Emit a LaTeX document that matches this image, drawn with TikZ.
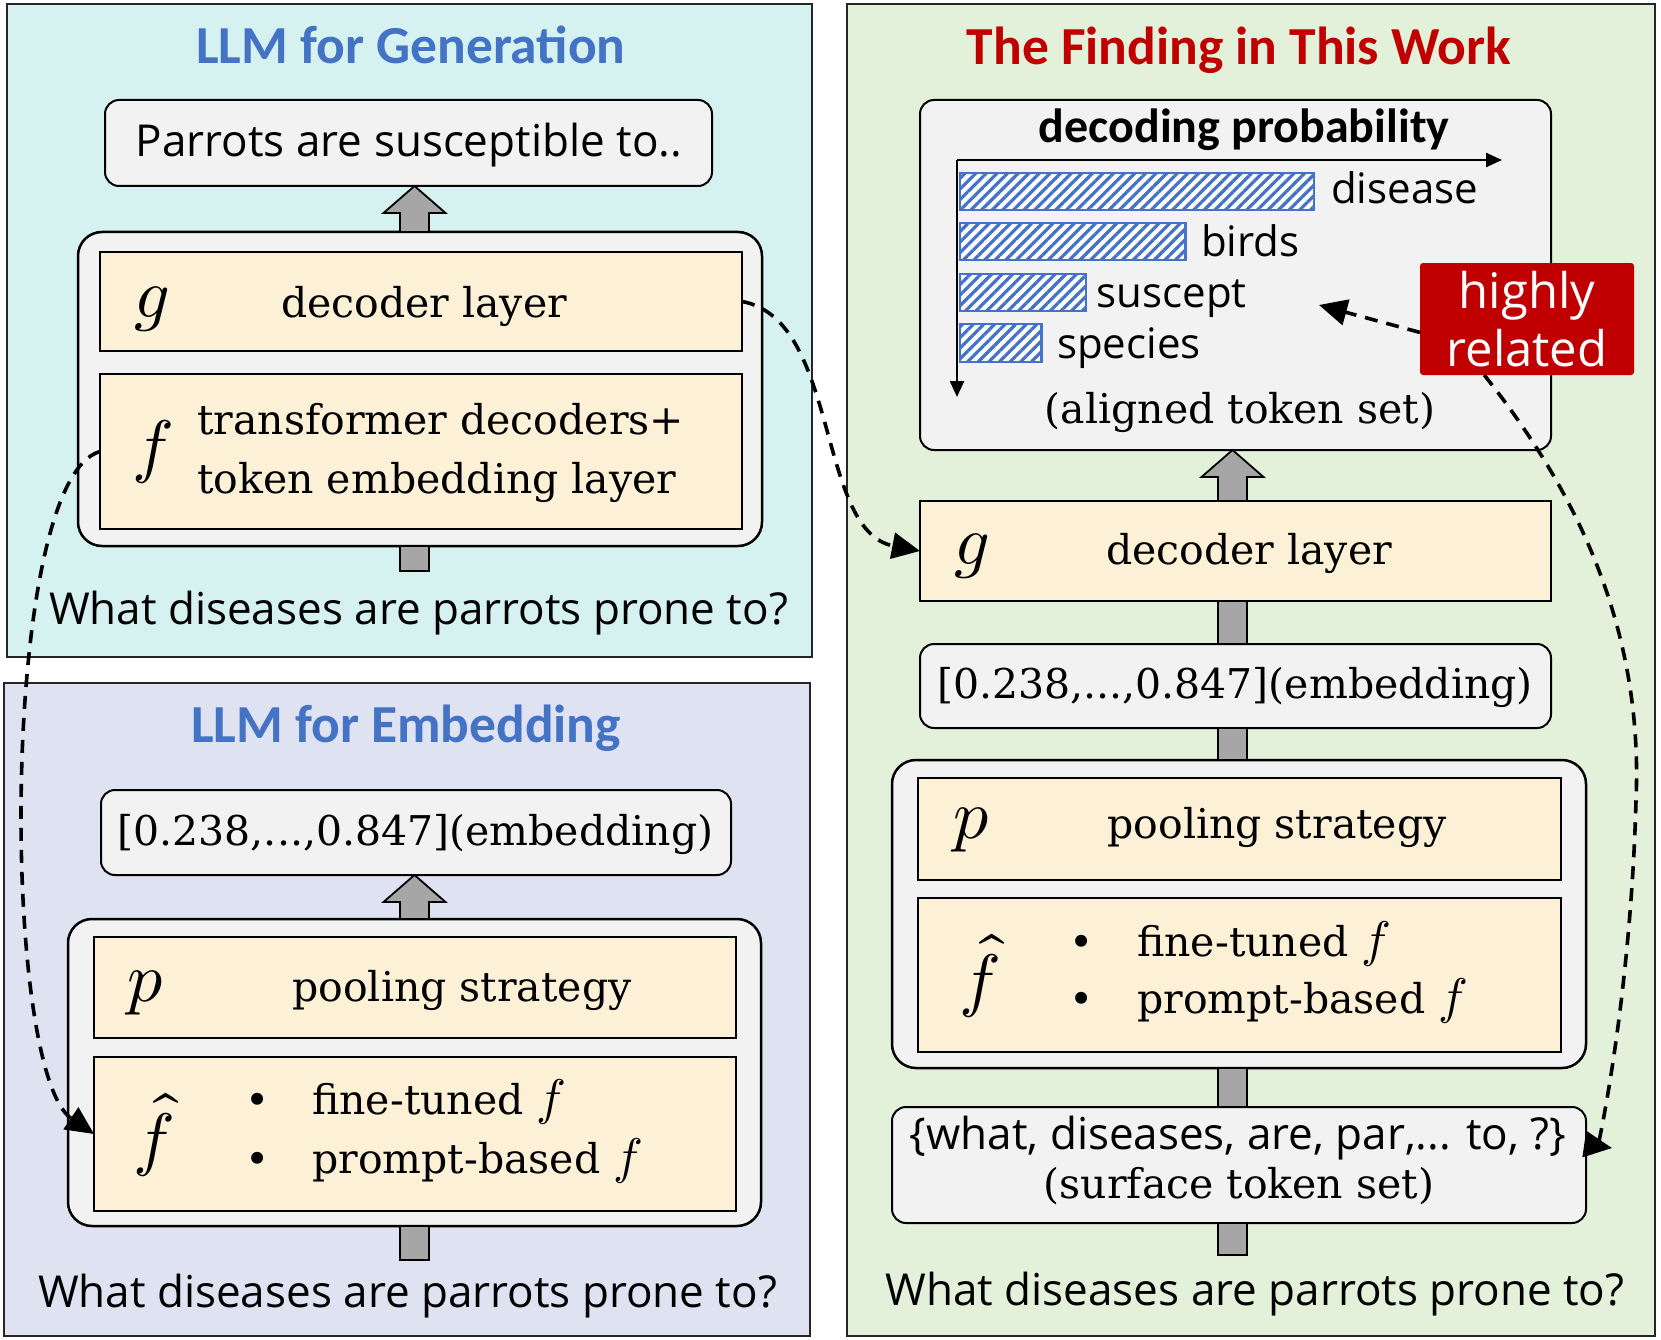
\documentclass[tikz,border=0pt]{standalone}
\usepackage{fontspec}
\usepackage{unicode-math}
\setmainfont{DejaVu Serif}
\setmathfont{Latin Modern Math}
\newfontfamily\comicf{Open Sans}
\newfontfamily\titlef{Carlito}
\usetikzlibrary{arrows.meta,calc,patterns.meta}
\definecolor{genbg}{RGB}{213,242,240}
\definecolor{embbg}{RGB}{222,226,241}
\definecolor{findbg}{RGB}{227,240,218}
\definecolor{cream}{RGB}{252,241,214}
\definecolor{boxgray}{RGB}{242,242,242}
\definecolor{arrowgray}{RGB}{166,166,166}
\definecolor{titleblue}{RGB}{68,114,196}
\definecolor{darkred}{RGB}{192,0,0}
\definecolor{barblue}{RGB}{68,114,196}
\newcommand{\upArrow}[2]{%
  \path[garrow] let \p1=(#1), \p2=(#2) in
    (\x1-14.5pt,\y1) -- (\x1-14.5pt,\y2-27pt) -- (\x1-31pt,\y2-27pt) -- (\x1,\y2)
    -- (\x1+31pt,\y2-27pt) -- (\x1+14.5pt,\y2-27pt) -- (\x1+14.5pt,\y1) -- cycle;}
\newcommand{\itf}{{\fontsize{50}{50}\selectfont$f$}}
\begin{document}
\begin{tikzpicture}[x=1pt,y=-1pt,
  panelbox/.style={draw=black!85, line width=2pt},
  outbox/.style={draw=black, line width=2pt, rounded corners=14pt, fill=boxgray, inner sep=0pt, outer sep=0pt},
  contbox/.style={draw=black, line width=2.5pt, rounded corners=24pt, fill=boxgray, inner sep=0pt, outer sep=0pt},
  layerbox/.style={draw=black, line width=2.5pt, fill=cream, inner sep=0pt, outer sep=0pt},
  redbox/.style={fill=darkred, rounded corners=3pt, text=white, inner sep=0pt, outer sep=0pt, align=center, font=\comicf\fontsize{49}{58}\selectfont},
  ttl/.style={font=\titlef\bfseries\fontsize{53.5}{64}\selectfont, inner sep=0pt, anchor=base},
  probttl/.style={font=\titlef\bfseries\fontsize{48}{58}\selectfont, inner sep=0pt, anchor=base},
  txtserif/.style={font=\fontsize{41}{49}\selectfont, inner sep=0pt, anchor=base},
  txtcomic/.style={font=\comicf\fontsize{44}{52}\selectfont, inner sep=0pt, anchor=base},
  barlbl/.style={font=\comicf\fontsize{42}{50}\selectfont, inner sep=0pt, anchor=base west},
  msym/.style={font=\fontsize{70}{80}\selectfont, inner sep=0pt, anchor=base},
  garrow/.style={draw=black, fill=arrowgray, line width=1.8pt, line join=miter},
  gshaft/.style={draw=black, fill=arrowgray, line width=1.8pt},
  barbox/.style={draw=barblue, line width=2.2pt, preaction={fill=white}, pattern={Lines[angle=45,distance=7.5pt,line width=3.2pt]}, pattern color=barblue},
  axisarr/.style={line width=2.4pt, -{Triangle[length=16pt,width=14pt]}},
  dconn/.style={line width=3.6pt, dash pattern=on 13pt off 9pt, -{Triangle[length=28pt,width=26pt]}}
]
\useasboundingbox (0,0) rectangle (1661,1340);
\fill[white] (0,0) rectangle (1661,1340);

% panels
\draw[panelbox, fill=genbg] (7,4) rectangle (812,657);
\draw[panelbox, fill=embbg] (4,683) rectangle (810,1336);
\draw[panelbox, fill=findbg] (847,4) rectangle (1655,1336);

% ---------- LLM for Generation ----------
\node[ttl, text=titleblue] (tA) at (411,64) {LLM for Generation};
\node[outbox, minimum width=607pt, minimum height=86pt] (outA) at (408.5,143) {};
\node[txtcomic] (toA) at (409,157) {Parrots are susceptible to..};
\node[contbox, minimum width=684pt, minimum height=314pt] (contA) at (420,389) {};
\node[layerbox, minimum width=642pt, minimum height=99pt] (gA) at (421,301.5) {};
\node[layerbox, minimum width=642pt, minimum height=155pt] (fA) at (421,451.5) {};
\node[msym] (gAs) at (152,317) {$g$};
\node[txtserif] (gAt) at (424,317) {decoder layer};
\node[msym] (fAs) at (153,469) {$f$};
\node[txtserif, anchor=base west] (fAt1) at (197,434) {transformer decoders+};
\node[txtserif, anchor=base west] (fAt2) at (197,493.5) {token embedding layer};
\upArrow{414.5,0 |- contA.north}{414.5,0 |- outA.south}
\draw[gshaft] (400,0 |- contA.south) rectangle (429,571);
\node[txtcomic] (qA) at (418.5,624) {What diseases are parrots prone to?};

% ---------- LLM for Embedding ----------
\node[ttl, text=titleblue] (tB) at (406,742) {LLM for Embedding};
\node[outbox, minimum width=630pt, minimum height=85pt] (outB) at (416,832.5) {};
\node[txtserif] (eBt) at (415.5,845) {[0.238,...,0.847](embedding)};
\node[contbox, minimum width=693pt, minimum height=307pt] (contB) at (414.5,1072.5) {};
\node[layerbox, minimum width=642pt, minimum height=101pt] (pB) at (415,987.5) {};
\node[layerbox, minimum width=642pt, minimum height=154pt] (fhB) at (415,1134) {};
\node[msym] (pBs) at (146,1001) {$p$};
\node[txtserif] (pBt) at (462,1001) {pooling strategy};
\node[msym] (fhBs) at (153.5,1162) {$\widehat{f}$};
\node[txtserif] (bB1) at (258,1114.5) {\textbullet};
\node[txtserif] (bB2) at (258,1173) {\textbullet};
\node[txtserif, anchor=base west] (iB1) at (312,1114.5) {fine-tuned \itf};
\node[txtserif, anchor=base west] (iB2) at (312,1173) {prompt-based \itf};
\upArrow{414.5,0 |- contB.north}{414.5,0 |- outB.south}
\draw[gshaft] (400,0 |- contB.south) rectangle (429,1260);
\node[txtcomic] (qB) at (407.5,1307) {What diseases are parrots prone to?};

% ---------- The Finding in This Work ----------
\node[ttl, text=darkred] (tC) at (1239,65) {The Finding in This Work};
\node[outbox, minimum width=631pt, minimum height=350pt] (prob) at (1235.5,275) {};
\node[probttl] (probT) at (1244,143) {decoding probability};
\coordinate (orig) at (957,160);
\draw[axisarr] (orig) -- (1502,160);
\draw[axisarr] (orig) -- (957,397);
\draw[barbox] (960,173) rectangle (1314,210);
\draw[barbox] (960,223) rectangle (1185.5,260);
\draw[barbox] (960,274) rectangle (1086,311);
\draw[barbox] (960,324) rectangle (1041.5,362);
\node[barlbl] (lb1) at (1331,204) {disease};
\node[barlbl] (lb2) at (1201,256) {birds};
\node[barlbl] (lb3) at (1096.5,307) {suscept};
\node[barlbl] (lb4) at (1057,358) {species};
\node[txtserif] (alig) at (1240,423) {(aligned token set)};

\node[layerbox, minimum width=631pt, minimum height=100pt] (gC) at (1235.5,551) {};
\node[msym] (gCs) at (972,564) {$g$};
\node[txtserif] (gCt) at (1249,564) {decoder layer};
\node[outbox, minimum width=631pt, minimum height=84pt] (embC) at (1235.5,686) {};
\node[txtserif] (eCt) at (1235,698) {[0.238,...,0.847](embedding)};
\node[contbox, minimum width=694pt, minimum height=308pt] (contC) at (1239,914) {};
\node[layerbox, minimum width=643pt, minimum height=102pt] (pC) at (1239.5,829) {};
\node[layerbox, minimum width=643pt, minimum height=154pt] (fhC) at (1239.5,975) {};
\node[msym] (pCs) at (972,838.6) {$p$};
\node[txtserif] (pCt) at (1277,838.6) {pooling strategy};
\node[msym] (fhCs) at (980,1003) {$\widehat{f}$};
\node[txtserif] (bC1) at (1082,956) {\textbullet};
\node[txtserif] (bC2) at (1082,1013) {\textbullet};
\node[txtserif, anchor=base west] (iC1) at (1137,956) {fine-tuned \itf};
\node[txtserif, anchor=base west] (iC2) at (1137,1013) {prompt-based \itf};
\node[outbox, minimum width=694pt, minimum height=116pt] (surf) at (1239,1165) {};
\node[txtcomic] (s1) at (1238,1149) {\{what, diseases, are, par,... to, ?\}};
\node[txtserif] (s2) at (1239,1198) {(surface token set)};
\node[txtcomic] (qC) at (1255,1305) {What diseases are parrots prone to?};

\upArrow{1232.5,0 |- gC.north}{1232.5,0 |- prob.south}
\draw[gshaft] (1218,0 |- gC.south) rectangle (1247,0 |- embC.north);
\draw[gshaft] (1218,0 |- embC.south) rectangle (1247,0 |- contC.north);
\draw[gshaft] (1218,0 |- contC.south) rectangle (1247,0 |- surf.north);
\draw[gshaft] (1218,0 |- surf.south) rectangle (1247,1255);

\node[redbox, minimum width=214pt, minimum height=112pt] (rel) at (1527,319) {highly\\related};

% ---------- dashed connectors ----------
\draw[dconn] (gA.east) .. controls +(98,18) and +(-104,-20) .. (gC.west);
\draw[dconn] (fA.west) .. controls (0,480) and (0,1070) .. (fhB.west);
\coordinate (susTip) at (1319,305);
\draw[dconn] ($(rel.north west)!0.62!(rel.south west)$) -- (susTip);
\coordinate (surfTip) at (1612,1148);
\draw[dconn] ($(rel.south west)!0.3!(rel.south east)$) .. controls (1600,520) and (1642,660) .. (1636,800) .. controls (1632,950) and (1612,1080) .. (1598,1146) -- (surfTip);
\end{tikzpicture}
\end{document}
